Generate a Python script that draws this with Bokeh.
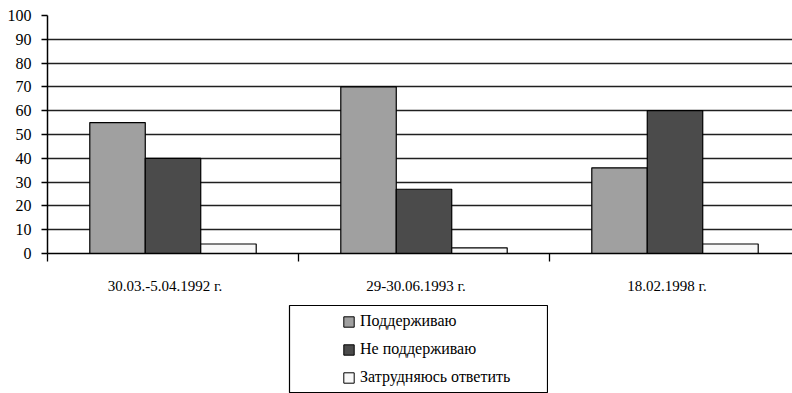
from bokeh.plotting import figure
from bokeh.models import (Range1d, FixedTicker, ColumnDataSource, Legend,
                          LegendItem, Spacer)
from bokeh.layouts import column, row
from bokeh.transform import dodge
from bokeh.embed import file_html
from bokeh.resources import INLINE

# ---- data ----
categories = ["30.03.-5.04.1992 г.", "29-30.06.1993 г.", "18.02.1998 г."]
support = [55, 70, 36]          # Поддерживаю
not_support = [40, 27, 60]      # Не поддерживаю
hard_to_say = [4, 2.4, 4]       # Затрудняюсь ответить
series_names = ["Поддерживаю", "Не поддерживаю", "Затрудняюсь ответить"]
series_colors = ["#a0a0a0", "#4b4b4b", "#f8f8f8"]
y_ticks = list(range(0, 101, 10))

centers = [i + 0.5 for i in range(len(categories))]
bounds = list(range(len(categories) + 1))
# category labels sit slightly left of the group centre, as in the original
label_pos = [c - 0.032 for c in centers]

src = ColumnDataSource(dict(x=centers, s=support, n=not_support, h=hard_to_say))

FONT = "Liberation Serif"
BW = 0.221

p = figure(width=792, height=304,
           x_range=Range1d(0, (792 - 47) / 251), y_range=Range1d(0, 100),
           output_backend="svg", toolbar_location=None,
           min_border_left=47, min_border_right=0,
           min_border_top=15, min_border_bottom=51)
p.outline_line_color = None
p.background_fill_color = "white"
p.border_fill_color = "white"

for col, off, color in zip(["s", "n", "h"], [-BW, 0, BW], series_colors):
    p.vbar(x=dodge("x", off, range=p.x_range), top=col, width=BW, source=src,
           fill_color=color, line_color="black", line_width=1.2)

# axes
p.xaxis.ticker = FixedTicker(ticks=label_pos, minor_ticks=bounds)
p.xaxis.major_label_overrides = {float(c): lab for c, lab in zip(label_pos, categories)}
p.xaxis.major_tick_line_color = None
p.xaxis.major_tick_out = 0
p.xaxis.major_tick_in = 0
p.xaxis.minor_tick_line_color = "black"
p.xaxis.minor_tick_out = 8
p.xaxis.minor_tick_in = 0
p.xaxis.minor_tick_line_width = 1.3
p.xaxis.axis_line_color = "black"
p.xaxis.axis_line_width = 1.5
p.xaxis.major_label_standoff = 16
p.xaxis.major_label_text_font = FONT
p.xaxis.major_label_text_font_size = "15px"
p.xaxis.major_label_text_color = "black"

p.yaxis.ticker = FixedTicker(ticks=y_ticks)
p.yaxis.major_tick_out = 6
p.yaxis.major_tick_in = 0
p.yaxis.major_tick_line_color = "black"
p.yaxis.major_tick_line_width = 1.3
p.yaxis.minor_tick_line_color = None
p.yaxis.axis_line_color = "black"
p.yaxis.axis_line_width = 1.5
p.yaxis.major_label_standoff = 10
p.yaxis.major_label_text_font = FONT
p.yaxis.major_label_text_font_size = "16px"
p.yaxis.major_label_text_color = "black"

p.xgrid.grid_line_color = None
p.ygrid.grid_line_color = "#202020"
p.ygrid.grid_line_width = 1.5

# ---- legend box (separate small figure whose frame is the box) ----
lg = figure(width=260, height=89, x_range=Range1d(0, 1), y_range=Range1d(0, 1),
            output_backend="svg", toolbar_location=None,
            min_border=1, min_border_left=1, min_border_right=1,
            min_border_top=1, min_border_bottom=1)
lg.axis.visible = False
lg.grid.visible = False
lg.outline_line_color = "black"
lg.outline_line_width = 1.2

# legend swatch sources lie outside the visible range of the box figure
offscreen = ColumnDataSource(dict(x=[-10], top=[0]))
items = []
for name, color in zip(series_names, series_colors):
    r = lg.vbar(x="x", top="top", width=0.1, source=offscreen,
                fill_color=color, line_color="black", line_width=1)
    items.append(LegendItem(label=name, renderers=[r]))

legend = Legend(items=items, location=(53, 5), padding=0, margin=0,
                border_line_color=None, background_fill_alpha=0,
                glyph_width=13, glyph_height=13, label_standoff=5,
                label_height=20, spacing=8,
                label_text_font=FONT, label_text_font_size="16px",
                label_text_color="black")
lg.add_layout(legend, "center")

layout = column(p, row(Spacer(width=288, height=89), lg))

open("out.html", "w").write(file_html(layout, INLINE))
